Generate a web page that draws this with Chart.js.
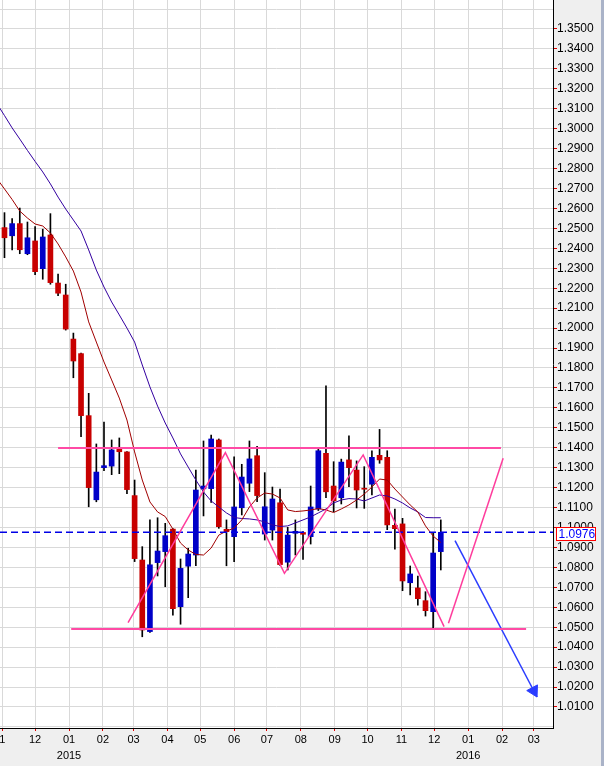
<!DOCTYPE html>
<html>
<head>
<meta charset="utf-8">
<script src="https://cdn.jsdelivr.net/npm/chart.js@4.4.0/dist/chart.umd.min.js"></script>
<style>
  html, body { margin: 0; padding: 0; background: #efefef; overflow: hidden; }
  #chart_div { width: 604px; height: 766px; }
</style>
</head>
<body>
<div id="chart_div"><canvas id="priceChart" width="604" height="766"></canvas></div>
<script>
// weekly EUR/USD candles (week opening monday)
var weekDates = ['2014-11-03','2014-11-10','2014-11-17','2014-11-24','2014-12-01','2014-12-08','2014-12-15','2014-12-22','2014-12-29',
  '2015-01-05','2015-01-12','2015-01-19','2015-01-26','2015-02-02','2015-02-09','2015-02-16','2015-02-23',
  '2015-03-02','2015-03-09','2015-03-16','2015-03-23','2015-03-30','2015-04-06','2015-04-13','2015-04-20','2015-04-27',
  '2015-05-04','2015-05-11','2015-05-18','2015-05-25','2015-06-01','2015-06-08','2015-06-15','2015-06-22','2015-06-29',
  '2015-07-06','2015-07-13','2015-07-20','2015-07-27','2015-08-03','2015-08-10','2015-08-17','2015-08-24','2015-08-31',
  '2015-09-07','2015-09-14','2015-09-21','2015-09-28','2015-10-05','2015-10-12','2015-10-19','2015-10-26',
  '2015-11-02','2015-11-09','2015-11-16','2015-11-23','2015-11-30','2015-12-07'];
var openP = [1.2504,1.2463,1.2524,1.2373,1.2437,1.2298,1.2467,1.2226,1.2166,1.1945,
  1.1872,1.1561,1.1139,1.1300,1.1308,1.1394,1.1379,1.1160,1.0837,1.0478,
  1.0824,1.0879,1.0992,1.0603,1.0806,1.0862,1.1194,1.1195,1.1439,1.0991,
  1.0954,1.1099,1.1222,1.1360,1.0967,1.0987,1.1124,1.0826,1.0971,1.0975,
  1.0954,1.1093,1.1372,1.1208,1.1149,1.1339,1.1288,1.1196,1.1217,1.1362,
  1.1352,1.1011,1.1018,1.0723,1.0697,1.0633,1.0578,1.0879];
var highP = [1.2579,1.2549,1.2602,1.2532,1.2509,1.2496,1.2574,1.2271,1.2220,1.1975,
  1.1875,1.1673,1.1419,1.1529,1.1439,1.1449,1.1381,1.1238,1.0904,1.1038,
  1.1049,1.1021,1.0995,1.0842,1.0896,1.1288,1.1434,1.1464,1.1444,1.1038,
  1.1355,1.1317,1.1434,1.1407,1.1275,1.1203,1.1193,1.1001,1.1038,1.0980,
  1.1208,1.1392,1.1710,1.1330,1.1343,1.1460,1.1334,1.1305,1.1385,1.1492,
  1.1385,1.1093,1.1046,1.0807,1.0757,1.0678,1.0971,1.1038];
var lowP = [1.2353,1.2392,1.2373,1.2368,1.2268,1.2245,1.2220,1.2163,1.1990,1.1751,
  1.1455,1.1104,1.1129,1.1285,1.1265,1.1270,1.1170,1.0829,1.0452,1.0474,
  1.0757,1.0703,1.0560,1.0515,1.0648,1.0808,1.1058,1.1126,1.0996,1.0808,
  1.0829,1.1063,1.1180,1.1130,1.0937,1.0937,1.0810,1.0787,1.0862,1.0840,
  1.0917,1.1085,1.1150,1.1079,1.1118,1.1205,1.1098,1.1096,1.1163,1.1322,
  1.0989,1.0891,1.0683,1.0662,1.0610,1.0556,1.0495,1.0787];
var closeP = [1.2453,1.2524,1.2393,1.2453,1.2283,1.2457,1.2228,1.2175,1.1995,1.1835,
  1.1561,1.1200,1.1278,1.1310,1.1389,1.1380,1.1190,1.0844,1.0486,1.0813,
  1.0882,1.0959,1.0593,1.0795,1.0867,1.1188,1.1208,1.1444,1.1004,1.0979,
  1.1103,1.1253,1.1344,1.1160,1.1104,1.1143,1.0814,1.0962,1.0981,1.0966,
  1.1103,1.1385,1.1179,1.1134,1.1328,1.1300,1.1188,1.1192,1.1352,1.1339,
  1.1013,1.0994,1.0732,1.0767,1.0643,1.0583,1.0872,1.0976];

// moving averages, first point is the week before the first candle
var maDates = ['2014-10-27'].concat(weekDates);
var maFast = [1.2750,1.2698,1.2645,1.2587,1.2552,1.2522,1.2512,1.2477,1.2422,1.2357,1.2286,
  1.2181,1.2031,1.1930,1.1830,1.1740,1.1649,1.1539,1.1379,1.1238,1.1128,
  1.1078,1.1055,1.0992,1.0922,1.0887,1.0865,1.0862,1.0897,1.0962,1.0982,
  1.0997,1.1038,1.1103,1.1148,1.1173,1.1168,1.1148,1.1088,1.1080,1.1083,
  1.1088,1.1095,1.1088,1.1075,1.1093,1.1113,1.1138,1.1168,1.1203,1.1243,
  1.1238,1.1193,1.1153,1.1113,1.1078,1.1008,1.0957,1.0925];
var maSlow = [1.3126,1.3066,1.3004,1.2948,1.2891,1.2836,1.2783,1.2723,1.2657,1.2597,1.2542,
  1.2487,1.2392,1.2291,1.2206,1.2131,1.2066,1.2000,1.1930,1.1815,1.1705,
  1.1609,1.1524,1.1449,1.1369,1.1303,1.1238,1.1178,1.1133,1.1103,1.1073,
  1.1050,1.1045,1.1043,1.1038,1.1028,1.1013,1.1005,1.1008,1.1023,1.1038,
  1.1053,1.1073,1.1093,1.1123,1.1138,1.1145,1.1143,1.1133,1.1148,1.1163,
  1.1158,1.1143,1.1123,1.1098,1.1078,1.1050,1.1049,1.1049];

// hand drawn lines
var zigzagDates = ['2015-02-24','2015-05-24','2015-07-17','2015-09-27','2015-12-10'];
var zigzagVals = [1.0523,1.1375,1.0770,1.1364,1.0503];
var legDates = ['2015-12-14','2016-02-02'];
var legVals = [1.0520,1.1347];
var resistDates = ['2014-12-22','2016-01-31'];
var resistVals = [1.1399,1.1399];
var supportDates = ['2015-01-03','2016-02-23'];
var supportVals = [1.0491,1.0491];
var arrowDates = ['2015-12-20','2016-03-04'];
var arrowVals = [1.0934,1.0150];
var arrowHeadDate = '2016-03-01';
var arrowHeadVal = 1.0181;

var lastPrice = 1.0976;

var monthDates = ['2014-11-01','2014-12-01','2015-01-01','2015-02-01','2015-03-01','2015-04-01','2015-05-01','2015-06-01',
  '2015-07-01','2015-08-01','2015-09-01','2015-10-01','2015-11-01','2015-12-01','2016-01-01','2016-02-01','2016-03-01'];
var monthLabels = ['1','12','01','02','03','04','05','06','07','08','09','10','11','12','01','02','03'];
var yearLabels = ['','','2015','','','','','','','','','','','','2016','',''];

var xAxisMin = -2.1, xAxisMax = 503.6;   // days from 2014-11-01
var yAxisMin = 0.99945, yAxisMax = 1.36454;
var fontFamily = "'Liberation Sans', Arial, sans-serif";

function dayNum(s){
  var p = s.split('-');
  return (Date.UTC(+p[0], +p[1]-1, +p[2]) - Date.UTC(2014, 10, 1)) / 86400000;
}

function toPoints(dates, vals){
  return dates.map(function(d, i){ return {x: dayNum(d), y: vals[i]}; });
}

var wickData = [], redBodies = [], blueBodies = [];
for (var i = 0; i < weekDates.length; ++i){
  var dx = dayNum(weekDates[i]);
  wickData.push({x: dx, y: [lowP[i], highP[i]]});
  if (closeP[i] < openP[i]){
    redBodies.push({x: dx, y: [closeP[i], openP[i]]});
  }else{
    blueBodies.push({x: dx, y: [openP[i], closeP[i]]});
  }
}

function lineSet(data, color, width, order, extra){
  var ds = {type: 'line', data: data, borderColor: color, borderWidth: width, pointRadius: 0,
    tension: 0, fill: false, order: order};
  for (var k in extra) ds[k] = extra[k];
  return ds;
}

var chartBackground = {
  id: 'chartBackground',
  beforeDraw: function(chart){
    var ctx = chart.ctx, a = chart.chartArea;
    ctx.save();
    ctx.fillStyle = '#efefef';
    ctx.fillRect(0, 0, chart.width, chart.height);
    ctx.fillStyle = '#aab3c8';
    ctx.fillRect(chart.width - 3, 0, 3, chart.height);
    ctx.fillStyle = '#ffffff';
    ctx.fillRect(a.left, a.top, a.right - a.left, a.bottom - a.top);
    ctx.restore();
  },
  afterDraw: function(chart){
    var ctx = chart.ctx, yScale = chart.scales.y;
    var py = Math.round(yScale.getPixelForValue(lastPrice));
    var bx = yScale.left + 3.5;
    ctx.save();
    ctx.fillStyle = '#ffffff';
    ctx.fillRect(bx, py - 4.5, 39, 13);
    ctx.strokeStyle = '#ff0000';
    ctx.lineWidth = 1;
    ctx.strokeRect(bx, py - 4.5, 39, 13);
    ctx.fillStyle = '#0000ff';
    ctx.font = '12px ' + fontFamily;
    ctx.textBaseline = 'middle';
    ctx.fillText(lastPrice.toFixed(4), bx + 2, py + 2.5);
    ctx.restore();
  }
};

var ctx = document.getElementById('priceChart').getContext('2d');
var chart = new Chart(ctx, {
  type: 'bar',
  data: {
    datasets: [
      lineSet(toPoints(zigzagDates, zigzagVals), '#ff3c9c', 1.5, 0),
      lineSet(toPoints(legDates, legVals), '#ff3c9c', 1.5, 0),
      lineSet(toPoints(resistDates, resistVals), '#ff4aa5', 2, 0),
      lineSet(toPoints(supportDates, supportVals), '#ff4aa5', 2, 0),
      lineSet(toPoints(arrowDates, arrowVals), '#2a3cff', 1.5, 0),
      lineSet([{x: dayNum(arrowHeadDate), y: arrowHeadVal}], '#2a3cff', 1, 0,
        {showLine: false, pointRadius: 7, pointStyle: 'triangle', rotation: 152, backgroundColor: '#2a3cff'}),
      lineSet([{x: xAxisMin, y: lastPrice}, {x: xAxisMax, y: lastPrice}], '#0000e6', 1.5, 0, {borderDash: [7, 4]}),
      lineSet(toPoints(maDates, maFast), '#a00000', 1, 1),
      lineSet(toPoints(maDates, maSlow), '#3300a0', 1, 1),
      {type: 'bar', data: redBodies, backgroundColor: '#c80000', barThickness: 5, minBarLength: 1,
        grouped: false, borderWidth: 0, order: 2},
      {type: 'bar', data: blueBodies, backgroundColor: '#0000c8', barThickness: 5, minBarLength: 1,
        grouped: false, borderWidth: 0, order: 2},
      {type: 'bar', data: wickData, backgroundColor: '#000000', barThickness: 1,
        grouped: false, borderWidth: 0, order: 3}
    ]
  },
  options: {
    responsive: false,
    animation: false,
    events: [],
    layout: {padding: 0, autoPadding: false},
    plugins: {legend: {display: false}, tooltip: {enabled: false}},
    scales: {
      x: {
        type: 'linear', min: xAxisMin, max: xAxisMax, offset: false,
        grid: {color: '#d9d9d9', tickColor: '#e00000', tickLength: 3, offset: false},
        border: {color: '#000000'},
        ticks: {
          autoSkip: false, maxRotation: 0, padding: 1, color: '#000000',
          font: {size: 11, family: fontFamily, lineHeight: 1.45},
          callback: function(v, idx){
            return yearLabels[idx] ? [monthLabels[idx], yearLabels[idx]] : monthLabels[idx];
          }
        },
        afterBuildTicks: function(scale){
          scale.ticks = monthDates.map(function(d){ return {value: dayNum(d)}; });
        },
        afterFit: function(scale){
          scale.height = 38;
          scale.paddingLeft = 0;
          scale.paddingRight = 0;
        }
      },
      y: {
        type: 'linear', position: 'right', min: yAxisMin, max: yAxisMax,
        grid: {
          color: '#d9d9d9', tickLength: 4,
          tickColor: function(c){ return (c.tick && c.tick.value > 1.005 && c.tick.value < 1.355) ? '#e00000' : 'rgba(0,0,0,0)'; }
        },
        border: {color: '#000000'},
        ticks: {
          stepSize: 0.01, includeBounds: false, maxTicksLimit: 100, padding: 0, color: '#000000',
          font: {size: 12, family: fontFamily},
          callback: function(v){ return (v > 1.005 && v < 1.355) ? v.toFixed(4) : ''; }
        },
        afterFit: function(scale){
          scale.width = 51;
          scale.paddingTop = 0;
          scale.paddingBottom = 0;
        }
      }
    }
  },
  plugins: [chartBackground]
});
</script>
</body>
</html>
